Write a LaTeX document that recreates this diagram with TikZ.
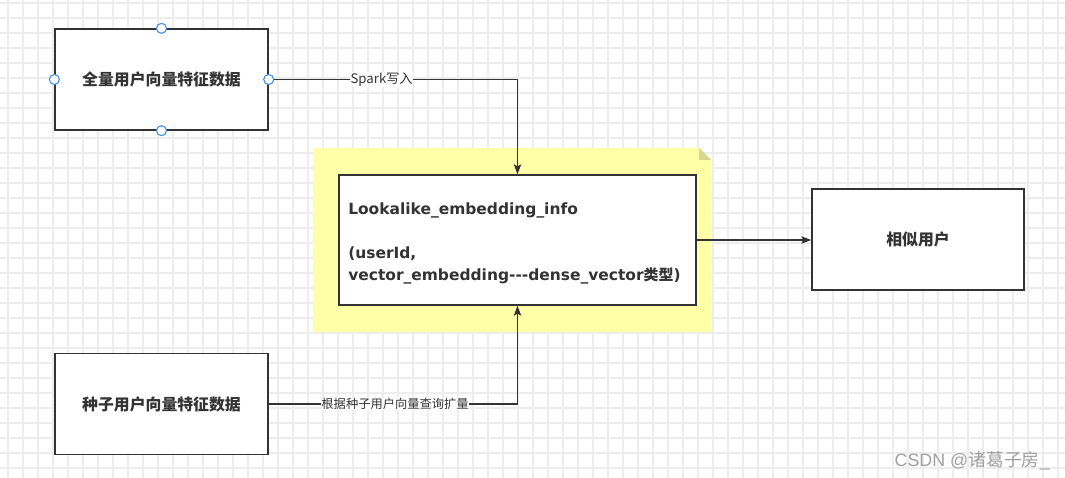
\documentclass[tikz,border=0pt]{standalone}
\usepackage{fontspec}
\setmainfont{Noto Sans CJK SC}
\newfontfamily\latinb{DejaVu Sans}
\newfontfamily\latinw{Liberation Sans}
\usetikzlibrary{arrows.meta}
\definecolor{ink}{HTML}{333333}
\definecolor{gridc}{HTML}{EDEDED}
\definecolor{notey}{HTML}{FFFFA8}
\definecolor{notefold}{HTML}{D6D68E}
\definecolor{handle}{HTML}{3D8EF0}
\definecolor{wm}{HTML}{A0A0A0}
\tikzset{
  gridline/.style={draw=gridc, line width=0.9pt},
  box/.style={draw=ink, fill=white, line width=1pt, rectangle, inner sep=0pt,
    font=\bfseries\fontsize{11.9pt}{14pt}\selectfont, text=ink},
  conn/.style={draw=ink, line width=0.9pt, -{Stealth[length=7.5pt,width=5.5pt,inset=1.5pt]}},
  elabel/.style={fill=white, inner sep=0.5pt, text=ink, font=\fontsize{9.2pt}{10pt}\selectfont},
  handledot/.style={circle, draw=handle, fill=white, line width=0.8pt, minimum size=7.5pt, inner sep=0pt}
}
\begin{document}
\begin{tikzpicture}[x=0.75pt,y=-0.75pt]
\fill[white] (0,0) rectangle (1065,478);
\useasboundingbox (0,0) rectangle (1065,478);
\foreach \x in {8,23,...,1065} \draw[gridline] (\x,0) -- (\x,478);
\foreach \y in {3,18,...,478} \draw[gridline] (0,\y) -- (1065,\y);

% note background
\fill[notey] (313,148) -- (699,148) -- (711,160) -- (711,332) -- (313,332) -- cycle;
\fill[notefold] (699,148) -- (711,160) -- (699,160) -- cycle;

\node[box, minimum width=213*0.75pt, minimum height=101*0.75pt] (a) at (161.5,79.5) {全量用户向量特征数据};
\node[box, minimum width=213*0.75pt, minimum height=101*0.75pt] (b) at (161.5,404) {种子用户向量特征数据};
\node[box, minimum width=212*0.75pt, minimum height=101*0.75pt] (c) at (918,239.5) {相似用户};
\node[box, minimum width=357*0.75pt, minimum height=130*0.75pt] (n) at (517.5,240) {};
\node[anchor=west, align=left, inner sep=0pt, text=ink,
  font=\latinb\bfseries\fontsize{11.6pt}{16.5pt}\selectfont] (nt) at (348,243)
  {Lookalike\_embedding\_info\\[16.5pt](userId,\\vector\_embedding-{}-{}-dense\_vector{\rmfamily\bfseries\fontsize{11.2pt}{16.5pt}\selectfont 类型})};

\node[handledot] (h1) at (a.north) {};
\node[handledot] (h2) at (a.south) {};
\node[handledot] (h3) at (a.west) {};

\draw[conn] (a.east) -| (n.north) node[elabel, pos=0.227, font=\fontsize{9.9pt}{10pt}\selectfont] {Spark写入};
\node[handledot] (h4) at (a.east) {};
\draw[conn] (b.east) -| (n.south) node[elabel, pos=0.254] {根据种子用户向量查询扩量};
\draw[conn] (n.east |- 0,240) -- (c.west |- 0,240);

\node[anchor=east, text=wm, inner sep=0pt, font=\fontsize{13.4pt}{14pt}\selectfont] (w) at (1050,461) {{\latinw CSDN @}诸葛子房{\latinw\_}};
\end{tikzpicture}
\end{document}
